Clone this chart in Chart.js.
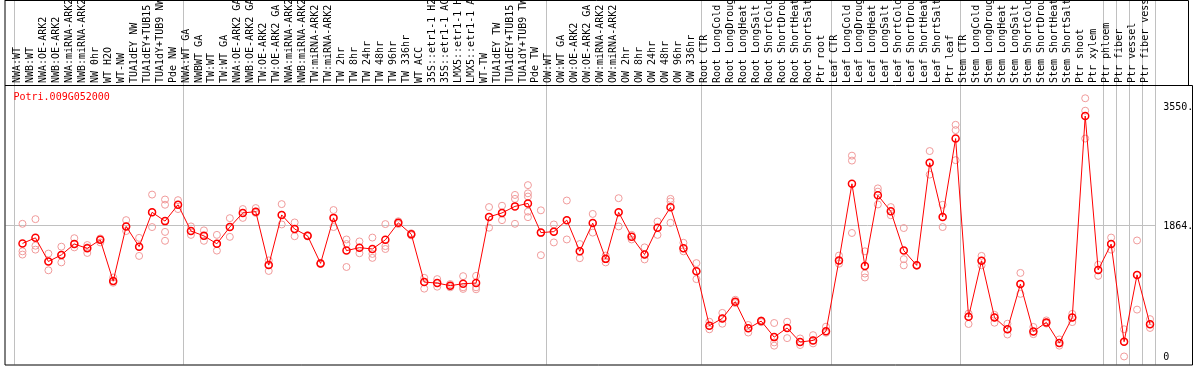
<!DOCTYPE html>
<html>
<head>
<meta charset="utf-8">
<script src="https://cdn.jsdelivr.net/npm/chart.js@4.4.1/dist/chart.umd.min.js"></script>
<style>
    html, body { margin: 0; padding: 0; background: #fff; }
    #wrap { width: 1194px; height: 370px; position: relative; }
</style>
</head>
<body>
<div id="wrap"><canvas id="myLineChart"></canvas></div>
<script>
var geneName = 'Potri.009G052000';

var samples = [
    'NWA:WT', 'NWB:WT', 'NWA:OE-ARK2', 'NWB:OE-ARK2', 'NWA:miRNA-ARK2', 'NWB:miRNA-ARK2',
    'NW 0hr', 'WT H2O', 'WT-NW', 'TUA1dEY NW', 'TUA1dEY+TUB15 NW', 'TUA1dY+TUB9 NW', 'Pde NW',
    'NWA:WT GA', 'NWBWT GA', 'TW:WT', 'TW:WT GA', 'NWA:OE-ARK2 GA', 'NWB:OE-ARK2 GA',
    'TW:OE-ARK2', 'TW:OE-ARK2 GA', 'NWA:miRNA-ARK2 GA', 'NWB:miRNA-ARK2 GA', 'TW:miRNA-ARK2',
    'TW:miRNA-ARK2 GA', 'TW 2hr', 'TW 8hr', 'TW 24hr', 'TW 48hr', 'TW 96hr', 'TW 336hr',
    'WT ACC', '35S::etr1-1 H2O', '35S::etr1-1 ACC', 'LMX5::etr1-1 H2O', 'LMX5::etr1-1 ACC',
    'WT-TW', 'TUA1dEY TW', 'TUA1dEY+TUB15 TW', 'TUA1dY+TUB9 TW', 'Pde TW',
    'OW:WT', 'OW:WT GA', 'OW:OE-ARK2', 'OW:OE-ARK2 GA', 'OW:miRNA-ARK2', 'OW:miRNA-ARK2 GA',
    'OW 2hr', 'OW 8hr', 'OW 24hr', 'OW 48hr', 'OW 96hr', 'OW 336hr',
    'Root CTR', 'Root LongCold', 'Root LongDrought', 'Root LongHeat', 'Root LongSalt',
    'Root ShortCold', 'Root ShortDrought', 'Root ShortHeat', 'Root ShortSalt', 'Ptr root',
    'Leaf CTR', 'Leaf LongCold', 'Leaf LongDrought', 'Leaf LongHeat', 'Leaf LongSalt',
    'Leaf ShortCold', 'Leaf ShortDrought', 'Leaf ShortHeat', 'Leaf ShortSalt', 'Ptr leaf',
    'Stem CTR', 'Stem LongCold', 'Stem LongDrought', 'Stem LongHeat', 'Stem LongSalt',
    'Stem ShortCold', 'Stem ShortDrought', 'Stem ShortHeat', 'Stem ShortSalt', 'Ptr shoot',
    'Ptr xylem', 'Ptr phloem', 'Ptr fiber', 'Ptr vessel', 'Ptr fiber vessel'
];

// mean expression per sample
var means = [
    1616, 1695, 1360, 1453, 1607, 1546, 1667, 1082, 1857, 1570, 2057, 1932, 2164,
    1792, 1723, 1611, 1848, 2048, 2066, 1309, 2020, 1820, 1723, 1333, 1978, 1514,
    1556, 1537, 1667, 1908, 1746, 1068, 1054, 1017, 1045, 1054, 1992, 2048, 2141,
    2183, 1769,
    1783, 1946, 1504, 1904, 1397, 2057, 1709, 1458, 1839, 2127, 1546, 1221,
    450, 553, 790, 413, 515, 288, 418, 218, 241, 371,
    1374, 2461, 1295, 2298, 2071, 1514, 1305, 2758, 1992, 3102,
    576, 1370, 566, 399, 1040, 367, 497, 204, 566, 3422, 1240,
    1607, 223, 1170, 469
];

// individual replicates per sample
var replicates = [
    [1894, 1504, 1458], [1960, 1583, 1528], [1472, 1360, 1235], [1570, 1453, 1347],
    [1690, 1607, 1560], [1593, 1560, 1481], [1686, 1667, 1630], [1133, 1082, 1059],
    [1946, 1857, 1792], [1695, 1570, 1439], [2308, 2057, 1848], [2238, 2164, 1779, 1653],
    [2229, 2164, 2103],
    [1857, 1792, 1737], [1801, 1723, 1653], [1737, 1611, 1514], [1974, 1848, 1709],
    [2103, 2048, 1978], [2117, 2066, 2048], [1375, 1309, 1226], [2173, 2020, 1885],
    [1913, 1820, 1718], [1730, 1723, 1715], [1340, 1333, 1325], [2089, 1978, 1848],
    [1672, 1607, 1282], [1644, 1556, 1477], [1699, 1467, 1411], [1890, 1578, 1537],
    [1930, 1908, 1890], [1760, 1746, 1730], [1128, 1068, 975], [1110, 1054, 1003],
    [1040, 1017, 994], [1152, 994, 971], [1156, 994, 966], [2131, 1992, 1839],
    [2150, 2048, 1946], [2303, 2247, 1894], [2442, 2326, 2280, 2066, 1988], [2085, 1769, 1449],
    [1885, 1783, 1630], [2224, 1946, 1672], [1607, 1504, 1407], [2034, 1904, 1769],
    [1444, 1397, 1347], [2257, 2057, 1857], [1737, 1709, 1672], [1560, 1458, 1389],
    [1927, 1839, 1737], [2247, 2210, 1908], [1625, 1546, 1504], [1337, 1221, 1110],
    [506, 450, 399], [631, 553, 478], [817, 790, 770], [460, 413, 353], [525, 515, 500],
    [488, 213, 167], [506, 418, 274], [269, 218, 176], [316, 241, 199], [436, 371, 350],
    [1444, 1374, 1328], [2860, 2790, 1764], [1504, 1189, 1133], [2396, 2350, 2168],
    [2131, 2071, 2015], [1834, 1393, 1305], [1310, 1305, 1300], [2925, 2758, 2591],
    [2164, 1992, 1848], [3297, 3222, 2796],
    [622, 576, 474], [1439, 1370, 1305], [604, 566, 492], [478, 399, 325], [1198, 1040, 901],
    [432, 367, 330], [525, 497, 480], [255, 204, 167], [617, 566, 501], [3673, 3497, 3102],
    [1314, 1240, 1156],
    [1699, 1607, 1528], [399, 223, 14], [1658, 1170, 678], [543, 469, 418]
];

// first sample index of each tissue group (last entry closes the final group)
var groupStarts = [0, 13, 41, 53, 63, 73, 84, 85, 86, 87, 88];
var yTicks = [0, 1864, 3550];

var monoFont = { family: 'DejaVu Sans Mono', size: 10 };

var meanPoints = means.map(function (v, i) { return { x: i, y: v }; });
var repPoints = [];
replicates.forEach(function (reps, i) {
    reps.forEach(function (v) { repPoints.push({ x: i, y: v }); });
});

var framePlugin = {
    id: 'frame',
    afterDraw: function (chart) {
        var ctx = chart.ctx, a = chart.chartArea;
        ctx.save();
        ctx.strokeStyle = '#000';
        ctx.lineWidth = 1;
        ctx.beginPath();
        ctx.moveTo(a.left - 0.5, 0);
        ctx.lineTo(a.left - 0.5, a.bottom + 0.5);
        ctx.moveTo(a.left - 0.5, 0.5);
        ctx.lineTo(chart.width - 5.5, 0.5);
        ctx.lineTo(chart.width - 5.5, a.top - 0.5);
        ctx.moveTo(a.left - 0.5, a.top - 0.5);
        ctx.lineTo(chart.width - 1.5, a.top - 0.5);
        ctx.lineTo(chart.width - 1.5, a.bottom + 0.5);
        ctx.lineTo(a.left - 0.5, a.bottom + 0.5);
        ctx.stroke();
        ctx.fillStyle = '#ff0000';
        ctx.font = '10px "DejaVu Sans Mono"';
        ctx.textBaseline = 'middle';
        ctx.textAlign = 'left';
        ctx.fillText(geneName, a.left + 8, a.top + 11);
        ctx.restore();
    }
};

var config_line = {
    type: 'line',
    data: {
        datasets: [{
            label: geneName,
            data: meanPoints,
            borderColor: '#ff0000',
            borderWidth: 1,
            pointRadius: 3.5,
            pointBorderWidth: 1.5,
            pointBorderColor: '#ff0000',
            pointBackgroundColor: 'rgba(0,0,0,0)',
            tension: 0
        }, {
            label: 'replicates',
            data: repPoints,
            showLine: false,
            pointRadius: 3.5,
            pointBorderWidth: 1,
            pointBorderColor: '#f09a9a',
            pointBackgroundColor: 'rgba(0,0,0,0)'
        }]
    },
    options: {
        responsive: true,
        maintainAspectRatio: false,
        animation: false,
        layout: { padding: { left: 2, right: 0, top: 0, bottom: 1 } },
        plugins: {
            legend: { display: false },
            tooltip: { enabled: false }
        },
        scales: {
            x: {
                type: 'linear',
                position: 'top',
                weight: 1,
                min: -1.31,
                max: 87.4,
                afterBuildTicks: function (scale) {
                    scale.ticks = samples.map(function (s, i) { return { value: i }; });
                },
                afterFit: function (scale) {
                    scale.height = 86;
                    scale.paddingLeft = 0;
                    scale.paddingRight = 0;
                },
                grid: { display: false, drawTicks: false },
                border: { display: false },
                ticks: {
                    autoSkip: false,
                    minRotation: 90,
                    maxRotation: 90,
                    padding: 3,
                    labelOffset: 7,
                    color: '#000',
                    font: monoFont,
                    callback: function (v) { return samples[v]; }
                }
            },
            xGroups: {
                type: 'linear',
                position: 'top',
                weight: 0,
                min: -1.31,
                max: 87.4,
                afterBuildTicks: function (scale) {
                    scale.ticks = groupStarts.map(function (k) { return { value: k - 0.6 }; });
                },
                afterFit: function (scale) {
                    scale.height = 0;
                    scale.paddingLeft = 0;
                    scale.paddingRight = 0;
                },
                grid: { color: '#c0c0c0', drawTicks: true, tickLength: 86 },
                border: { display: false },
                ticks: { display: false }
            },
            y: {
                position: 'right',
                min: -100,
                max: 3847,
                afterBuildTicks: function (scale) {
                    scale.ticks = yTicks.map(function (v) { return { value: v }; });
                },
                afterFit: function (scale) {
                    scale.width = 38.8;
                    scale.paddingTop = 0;
                    scale.paddingBottom = 0;
                },
                grid: {
                    drawTicks: false,
                    color: function (ctx) {
                        return ctx.tick && ctx.tick.value === 1864 ? '#c0c0c0' : 'rgba(0,0,0,0)';
                    }
                },
                border: { display: false },
                ticks: {
                    padding: 8,
                    color: '#000',
                    font: monoFont,
                    callback: function (v) { return v === 0 ? '0' : v + '.'; }
                }
            }
        }
    },
    plugins: [framePlugin]
};

var myChart = new Chart(document.getElementById('myLineChart'), config_line);
</script>
</body>
</html>
